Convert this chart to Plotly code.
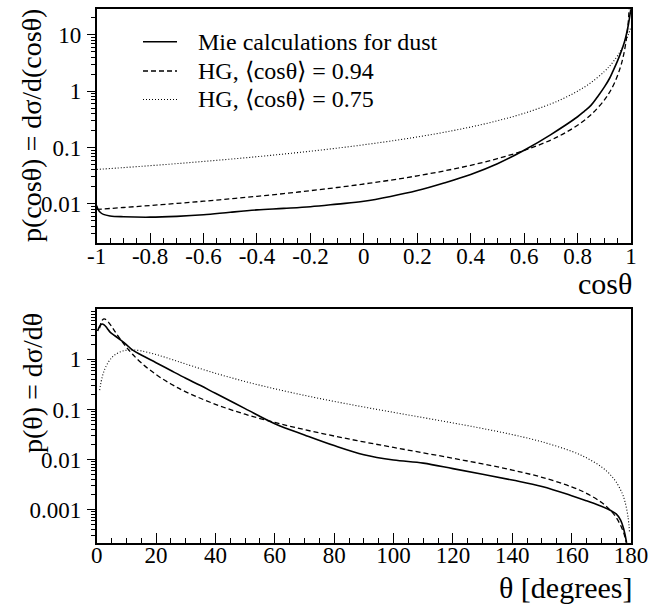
import plotly.graph_objects as go

# ---------------- data ----------------
# top panel: p(cos theta) versus cos theta
mie_cos = [-1.0, -0.995, -0.987, -0.975, -0.95, -0.9, -0.8, -0.7, -0.6, -0.5, -0.4, -0.3,
           -0.2, -0.1, 0.0, 0.1, 0.2, 0.3, 0.4, 0.5, 0.6, 0.7, 0.8, 0.825, 0.85, 0.875, 0.9,
           0.92, 0.933, 0.95, 0.96, 0.97, 0.98, 0.99, 1.0]
mie_pcos = [0.0093, 0.0080, 0.0071, 0.0065, 0.0061, 0.0059, 0.0058, 0.0060, 0.0064, 0.0071,
            0.0078, 0.0083, 0.0089, 0.0099, 0.0111, 0.0135, 0.0172, 0.0235, 0.0333, 0.0516,
            0.0895, 0.170, 0.352, 0.44, 0.56, 0.80, 1.18, 1.7, 2.3, 3.5, 4.6, 6.2, 9.0, 15.0,
            30.0]

hg_cos = [-1.0, -0.9, -0.8, -0.7, -0.6, -0.5, -0.4, -0.3, -0.2, -0.1, 0.0, 0.1, 0.2, 0.3,
          0.4, 0.5, 0.6, 0.7, 0.75, 0.8, 0.85, 0.9, 0.92, 0.94, 0.96, 0.97, 0.98, 0.99, 1.0]
hg94_pcos = [0.00797, 0.00861, 0.00933, 0.01017, 0.01114, 0.01227, 0.01360, 0.01520, 0.01714,
             0.01952, 0.02251, 0.02636, 0.03144, 0.03839, 0.04835, 0.06350, 0.08861, 0.1361,
             0.1786, 0.2489, 0.3813, 0.6940, 0.9630, 1.466, 2.631, 3.960, 6.960, 17.36, 269.4]
hg75_pcos = [0.04082, 0.04401, 0.04764, 0.05181, 0.05661, 0.06221, 0.06879, 0.07662, 0.08606,
             0.09761, 0.1120, 0.1303, 0.1542, 0.1864, 0.2317, 0.2987, 0.4057, 0.5962, 0.7559,
             1.0023, 1.4191, 2.2331, 2.8058, 3.6732, 5.1020, 6.20, 7.7756, 10.139, 14.0]

# bottom panel: p(theta) versus theta [degrees]
mie_theta = [0.3, 1.0, 1.8, 2.5, 3.5, 4.5, 6, 8, 10, 12, 15, 20, 25, 30, 35, 40, 50, 60, 70,
             80, 90, 100, 110, 120, 130, 140, 150, 160, 165, 170, 173, 175, 176.5, 177.5,
             178.5, 179.3]
mie_ptheta = [3.7, 4.6, 5.1, 4.9, 4.2, 3.5, 3.0, 2.45, 1.98, 1.55, 1.22, 0.86, 0.60, 0.42,
              0.30, 0.21, 0.104, 0.052, 0.031, 0.019, 0.0125, 0.0098, 0.0085, 0.0066, 0.0051,
              0.0039, 0.0029, 0.0019, 0.0015, 0.00117, 0.00097, 0.00082, 0.00062, 0.00042,
              0.00022, 0.00009]

hg_theta = [1, 1.5, 2, 2.5, 3, 4, 5, 6, 8, 10, 12, 15, 20, 25, 30, 40, 50, 60, 70, 80, 90,
            100, 110, 120, 130, 140, 150, 160, 165, 170, 173, 175, 177, 178, 179, 179.5]
hg94_ptheta = [4.193, 5.508, 6.214, 6.415, 6.276, 5.488, 4.549, 3.713, 2.500, 1.7525, 1.2812,
               0.8559, 0.4975, 0.3228, 0.2254, 0.1267, 0.08037, 0.05499, 0.03958, 0.02950,
               0.02251, 0.01744, 0.01362, 0.01062, 0.008200, 0.006174, 0.004422, 0.002854,
               0.002117, 0.0014001, 0.0009769, 0.0006967, 0.0004176, 0.0002783, 0.0001391,
               0.0000696]
hg75_ptheta = [0.2430, 0.3610, 0.4781, 0.5900, 0.6980, 0.8968, 1.0703, 1.2159, 1.4221, 1.525,
               1.5465, 1.4785, 1.2506, 1.0105, 0.8088, 0.5289, 0.3621, 0.2587, 0.1912, 0.1450,
               0.1120, 0.08752, 0.06875, 0.05387, 0.04172, 0.03149, 0.02259, 0.01460,
               0.010834, 0.007168, 0.005002, 0.003567, 0.002138, 0.001425, 0.0007124, 0.000356]

series_names = ["Mie calculations for dust",
                "HG, \u27E8cos\u03B8\u27E9 = 0.94",
                "HG, \u27E8cos\u03B8\u27E9 = 0.75"]

# tick labels
x1_tickvals = [-1, -0.8, -0.6, -0.4, -0.2, 0, 0.2, 0.4, 0.6, 0.8, 1]
x1_ticktext = ["-1", "-0.8", "-0.6", "-0.4", "-0.2", "0", "0.2", "0.4", "0.6", "0.8", "1"]
y1_tickvals = [0.01, 0.1, 1, 10]
y1_ticktext = ["0.01", "0.1", "1", "10"]
x2_tickvals = [0, 20, 40, 60, 80, 100, 120, 140, 160, 180]
x2_ticktext = ["0", "20", "40", "60", "80", "100", "120", "140", "160", "180"]
y2_tickvals = [0.001, 0.01, 0.1, 1]
y2_ticktext = ["0.001", "0.01", "0.1", "1"]

# ---------------- styling ----------------
FONT = "Liberation Serif, Times New Roman, serif"
W, H = 661, 606
styles = [dict(color="black", width=1.6, dash="solid"),
          dict(color="black", width=1.3, dash="5px,3px"),
          dict(color="black", width=1.1, dash="1px,2px")]


def log_minor(lo, hi):
    vals = []
    for e in range(lo, hi + 1):
        for m in range(2, 10):
            vals.append(m * 10 ** e)
    return vals


def px_x(p):
    return p / W


def px_y(p):
    return 1 - p / H


fig = go.Figure()
top = [(mie_cos, mie_pcos), (hg_cos, hg94_pcos), (hg_cos, hg75_pcos)]
bot = [(mie_theta, mie_ptheta), (hg_theta, hg94_ptheta), (hg_theta, hg75_ptheta)]
for i, (xs, ys) in enumerate(top):
    fig.add_trace(go.Scatter(x=xs, y=ys, mode="lines", line=styles[i], name=series_names[i],
                             xaxis="x", yaxis="y", showlegend=False, line_shape="spline"))
for i, (xs, ys) in enumerate(bot):
    fig.add_trace(go.Scatter(x=xs, y=ys, mode="lines", line=styles[i], name=series_names[i],
                             xaxis="x2", yaxis="y2", showlegend=False, line_shape="spline"))

xdom = [px_x(96.7), px_x(631)]
y1dom = [px_y(242.7), px_y(9.3)]
y2dom = [px_y(542.7), px_y(309.3)]

common = dict(showgrid=False, zeroline=False, showline=True, linecolor="black", linewidth=1.6,
              mirror=True, tickfont=dict(family=FONT, size=23, color="black"),
              tickcolor="black", tickwidth=1.2)

fig.update_layout(
    width=W, height=H, autosize=False, margin=dict(l=0, r=0, t=0, b=0, autoexpand=False),
    paper_bgcolor="white", plot_bgcolor="white",
    font=dict(family=FONT, color="black"),
    showlegend=False,
    xaxis=dict(domain=xdom, anchor="y", range=[-1, 1], tickmode="array",
               tickvals=x1_tickvals, ticktext=x1_ticktext, ticks="inside", ticklen=10,
               ticklabelstandoff=-8,
               minor=dict(ticks="inside", ticklen=5, tickmode="array",
                          tickvals=[-1 + 0.05 * k for k in range(41)], tickcolor="black"),
               **common),
    yaxis=dict(domain=y1dom, anchor="x", type="log", range=[-2.69, 1.455], tickmode="array",
               tickvals=y1_tickvals, ticktext=y1_ticktext, ticks="outside", ticklen=8,
               ticklabelstandoff=1,
               minor=dict(ticks="outside", ticklen=4, tickmode="array",
                          tickvals=log_minor(-3, 1), tickcolor="black"),
               **common),
    xaxis2=dict(domain=xdom, anchor="y2", range=[0, 180], tickmode="array",
                tickvals=x2_tickvals, ticktext=x2_ticktext, ticks="inside", ticklen=10,
                ticklabelstandoff=-9,
                minor=dict(ticks="inside", ticklen=5, tickmode="array",
                           tickvals=[5 * k for k in range(37)], tickcolor="black"),
                **common),
    yaxis2=dict(domain=y2dom, anchor="x2", type="log", range=[-3.66, 1.0], tickmode="array",
                tickvals=y2_tickvals, ticktext=y2_ticktext, ticks="outside", ticklen=8,
                ticklabelstandoff=1,
                minor=dict(ticks="outside", ticklen=4, tickmode="array",
                           tickvals=log_minor(-4, 0), tickcolor="black"),
                **common),
)

# legend drawn as key lines plus text labels
legend_rows = [41.7, 71.0, 99.5]
for i, yrow in enumerate(legend_rows):
    fig.add_shape(type="line", xref="paper", yref="paper",
                  x0=px_x(143), x1=px_x(177), y0=px_y(yrow), y1=px_y(yrow),
                  line=dict(color=styles[i]["color"], width=styles[i]["width"],
                            dash=styles[i]["dash"]))
    fig.add_annotation(text=series_names[i], xref="paper", yref="paper",
                       x=px_x(196), y=px_y(yrow), xanchor="left", yanchor="middle",
                       showarrow=False, font=dict(family=FONT, size=24, color="black"))

ann_font = dict(family=FONT, size=28, color="black")
xt_font = dict(family=FONT, size=30, color="black")
fig.add_annotation(text="p(cos\u03B8) = d\u03C3/d(cos\u03B8)", xref="paper", yref="paper",
                   x=px_x(32), y=px_y(126), textangle=-90, showarrow=False,
                   xanchor="center", yanchor="middle", font=ann_font)
fig.add_annotation(text="cos\u03B8", xref="paper", yref="paper",
                   x=px_x(633), y=px_y(283), showarrow=False, borderpad=0,
                   xanchor="right", yanchor="middle", font=xt_font)
fig.add_annotation(text="p(\u03B8) = d\u03C3/d\u03B8", xref="paper", yref="paper",
                   x=px_x(32), y=px_y(311), textangle=-90, showarrow=False,
                   xanchor="center", yanchor="top", font=ann_font)
fig.add_annotation(text="\u03B8 [degrees]", xref="paper", yref="paper",
                   x=px_x(633), y=px_y(587), showarrow=False, borderpad=0,
                   xanchor="right", yanchor="middle", font=xt_font)

fig.write_html("out.html", config={"responsive": False})
